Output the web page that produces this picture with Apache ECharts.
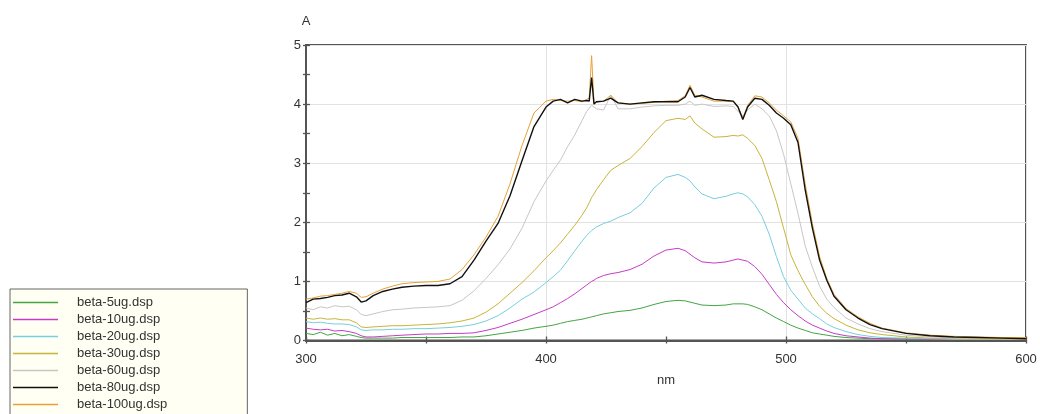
<!DOCTYPE html>
<html>
<head>
<meta charset="utf-8">
<script src="https://cdn.jsdelivr.net/npm/echarts@6/dist/echarts.min.js"></script>
<style>
  html, body { margin: 0; padding: 0; background: #ffffff; }
  #chart { width: 1040px; height: 414px; }
</style>
</head>
<body>
<div id="chart"></div>
<script>
// Wavelength grid (nm), shared by every spectrum
const wavelengths = [300, 303, 306, 309, 312, 315, 318, 321, 323, 325, 328, 332, 336, 340, 345, 350, 355, 360, 365, 370,
  375, 380, 385, 390, 395, 400, 403, 406, 409, 412, 415, 417, 418, 419, 420, 421, 424, 427, 430, 435,
  440, 445, 450, 455, 458, 460, 462, 465, 470, 475, 478, 480, 482, 484, 487, 490, 493, 496, 499, 502,
  505, 508, 511, 514, 517, 520, 525, 530, 535, 540, 550, 560, 570, 580, 590, 600];

// Absorbance (A) of each sample
const beta5 = [0.12, 0.10, 0.14, 0.09, 0.12, 0.08, 0.10, 0.07, 0.05, 0.04, 0.04, 0.04, 0.04, 0.05, 0.05, 0.05, 0.05, 0.05, 0.06, 0.06,
  0.08, 0.11, 0.14, 0.17, 0.21, 0.24, 0.26, 0.29, 0.32, 0.34, 0.36, 0.38, 0.39, 0.40, 0.41, 0.42, 0.45, 0.47, 0.49, 0.51,
  0.55, 0.61, 0.66, 0.68, 0.67, 0.65, 0.63, 0.60, 0.59, 0.60, 0.62, 0.62, 0.62, 0.61, 0.57, 0.52, 0.45, 0.38, 0.32, 0.26,
  0.21, 0.17, 0.13, 0.11, 0.09, 0.07, 0.05, 0.04, 0.03, 0.03, 0.02, 0.02, 0.02, 0.02, 0.02, 0.02];
const beta10 = [0.21, 0.19, 0.18, 0.19, 0.16, 0.17, 0.15, 0.12, 0.08, 0.06, 0.06, 0.07, 0.08, 0.09, 0.10, 0.11, 0.11, 0.12, 0.12, 0.13,
  0.17, 0.22, 0.29, 0.36, 0.44, 0.52, 0.57, 0.64, 0.71, 0.79, 0.88, 0.94, 0.97, 1.00, 1.02, 1.05, 1.10, 1.13, 1.15, 1.20,
  1.29, 1.43, 1.53, 1.56, 1.52, 1.46, 1.40, 1.33, 1.31, 1.33, 1.36, 1.38, 1.36, 1.34, 1.25, 1.12, 0.95, 0.78, 0.64, 0.52,
  0.42, 0.33, 0.26, 0.21, 0.16, 0.12, 0.08, 0.06, 0.04, 0.03, 0.03, 0.02, 0.02, 0.02, 0.02, 0.02];
const beta20 = [0.32, 0.30, 0.31, 0.29, 0.28, 0.28, 0.27, 0.23, 0.18, 0.17, 0.18, 0.18, 0.19, 0.19, 0.20, 0.20, 0.21, 0.22, 0.24, 0.27,
  0.33, 0.42, 0.55, 0.70, 0.82, 0.98, 1.08, 1.19, 1.35, 1.52, 1.68, 1.78, 1.82, 1.86, 1.89, 1.92, 1.98, 2.02, 2.08, 2.16,
  2.32, 2.58, 2.76, 2.81, 2.76, 2.70, 2.60, 2.48, 2.40, 2.44, 2.48, 2.50, 2.48, 2.43, 2.30, 2.10, 1.80, 1.42, 1.08, 0.85,
  0.70, 0.55, 0.45, 0.37, 0.28, 0.22, 0.15, 0.10, 0.07, 0.05, 0.04, 0.03, 0.02, 0.02, 0.02, 0.02];
const beta30 = [0.38, 0.36, 0.38, 0.36, 0.37, 0.35, 0.35, 0.30, 0.23, 0.22, 0.23, 0.24, 0.25, 0.25, 0.26, 0.27, 0.28, 0.30, 0.33, 0.38,
  0.48, 0.62, 0.80, 0.98, 1.18, 1.40, 1.52, 1.65, 1.80, 1.95, 2.12, 2.25, 2.33, 2.42, 2.48, 2.55, 2.72, 2.88, 2.96, 3.08,
  3.28, 3.52, 3.72, 3.76, 3.74, 3.80, 3.68, 3.58, 3.44, 3.45, 3.47, 3.46, 3.48, 3.42, 3.30, 3.08, 2.72, 2.35, 1.90, 1.45,
  1.18, 0.95, 0.74, 0.58, 0.46, 0.37, 0.26, 0.18, 0.13, 0.10, 0.06, 0.04, 0.03, 0.02, 0.02, 0.02];
const beta60 = [0.55, 0.52, 0.57, 0.55, 0.59, 0.57, 0.58, 0.52, 0.44, 0.42, 0.45, 0.49, 0.52, 0.53, 0.55, 0.56, 0.57, 0.59, 0.68, 0.84,
  1.05, 1.28, 1.55, 1.90, 2.35, 2.70, 2.88, 3.05, 3.28, 3.48, 3.72, 3.88, 3.93, 3.98, 3.95, 3.92, 3.90, 4.15, 3.92, 3.92,
  3.95, 3.97, 3.98, 3.98, 4.00, 4.05, 3.98, 4.00, 3.96, 3.97, 3.96, 3.88, 3.80, 3.90, 4.00, 3.92, 3.80, 3.55, 3.15, 2.65,
  2.15, 1.60, 1.24, 0.92, 0.70, 0.56, 0.38, 0.28, 0.20, 0.15, 0.09, 0.06, 0.04, 0.03, 0.03, 0.02];
const beta80 = [0.64, 0.70, 0.71, 0.73, 0.76, 0.77, 0.80, 0.74, 0.65, 0.67, 0.76, 0.83, 0.87, 0.90, 0.92, 0.93, 0.93, 0.96, 1.08, 1.36,
  1.68, 1.98, 2.45, 3.04, 3.62, 3.95, 4.05, 4.08, 4.02, 4.08, 4.05, 4.06, 4.05, 4.45, 4.00, 4.04, 4.05, 4.10, 4.02, 4.00,
  4.02, 4.04, 4.04, 4.04, 4.12, 4.28, 4.12, 4.15, 4.08, 4.06, 4.05, 3.95, 3.74, 3.95, 4.10, 4.08, 3.98, 3.85, 3.76, 3.65,
  3.35, 2.55, 1.90, 1.36, 1.02, 0.75, 0.52, 0.38, 0.27, 0.20, 0.12, 0.08, 0.06, 0.05, 0.04, 0.03];
const beta100 = [0.70, 0.72, 0.75, 0.76, 0.78, 0.80, 0.83, 0.80, 0.73, 0.74, 0.80, 0.87, 0.92, 0.96, 0.98, 0.99, 1.00, 1.04, 1.20, 1.45,
  1.75, 2.10, 2.65, 3.30, 3.85, 4.05, 4.08, 4.06, 4.05, 4.06, 4.04, 4.08, 4.10, 4.82, 4.02, 4.03, 4.05, 4.15, 4.02, 4.00,
  4.01, 4.03, 4.05, 4.06, 4.14, 4.32, 4.15, 4.12, 4.05, 4.05, 4.04, 3.96, 3.76, 3.98, 4.14, 4.12, 4.02, 3.90, 3.80, 3.70,
  3.42, 2.65, 1.98, 1.42, 1.05, 0.78, 0.54, 0.40, 0.29, 0.21, 0.13, 0.09, 0.07, 0.06, 0.05, 0.05];

const seriesNames = ['beta-5ug.dsp', 'beta-10ug.dsp', 'beta-20ug.dsp', 'beta-30ug.dsp', 'beta-60ug.dsp', 'beta-80ug.dsp', 'beta-100ug.dsp'];
const seriesValues = [beta5, beta10, beta20, beta30, beta60, beta80, beta100];
const seriesColors = ['#44a544', '#c63cc6', '#78cedd', '#c8b43a', '#c6c6c6', '#111111', '#e6a237'];
const seriesWidths = [1, 1, 1, 1, 1, 1.4, 1];
const seriesZ = [2, 2, 2, 2, 2, 4, 3];

const xTicks = { min: 300, max: 600, step: 100 };
const yTicks = { min: 0, max: 5, step: 1 };

const FONT = "'Liberation Sans', Arial, sans-serif";
const AXIS_COLOR = '#555555';

const chart = echarts.init(document.getElementById('chart'), null, { renderer: 'canvas' });

const series = seriesNames.map((name, k) => ({
  name: name,
  type: 'line',
  xAxisIndex: 0,
  yAxisIndex: 0,
  data: wavelengths.map((w, i) => [w, seriesValues[k][i]]),
  showSymbol: false,
  symbol: 'none',
  smooth: false,
  z: seriesZ[k],
  color: seriesColors[k],
  lineStyle: { color: seriesColors[k], width: seriesWidths[k] },
  emphasis: { disabled: true }
}));

chart.setOption({
  animation: false,
  backgroundColor: '#ffffff',
  textStyle: { fontFamily: FONT },
  grid: {
    left: 306, right: 14, top: 45, bottom: 73.5,
    show: true, borderColor: AXIS_COLOR, borderWidth: 2, backgroundColor: 'transparent',
    containLabel: false
  },
  legend: {
    orient: 'vertical',
    left: 10,
    top: 289,
    height: 400,
    data: seriesNames,
    icon: 'rect',
    itemWidth: 45,
    itemHeight: 1.5,
    itemGap: 0,
    padding: [5, 80, 24, 3],
    backgroundColor: '#fffff3',
    borderColor: '#666666',
    borderWidth: 1,
    selectedMode: false,
    textStyle: { fontFamily: FONT, fontSize: 13, color: '#333333', lineHeight: 17, padding: [0, 0, 0, 14] }
  },
  xAxis: [{
    type: 'value',
    position: 'bottom',
    min: xTicks.min, max: xTicks.max, interval: xTicks.step,
    name: 'nm', nameLocation: 'middle', nameGap: 33,
    nameTextStyle: { fontFamily: FONT, fontSize: 13, color: '#333333' },
    axisLine: { show: true, onZero: false, lineStyle: { color: AXIS_COLOR, width: 2 } },
    axisTick: { show: true, length: 3, lineStyle: { color: AXIS_COLOR, width: 1.3 } },
    minorTick: { show: true, splitNumber: 2, length: 3, lineStyle: { color: AXIS_COLOR, width: 1.3 } },
    axisLabel: { fontFamily: FONT, fontSize: 13, color: '#333333', margin: 12 },
    splitLine: { show: true, lineStyle: { color: '#e2e2e2', width: 1 } }
  }, {
    type: 'value',
    position: 'bottom',
    min: xTicks.min, max: xTicks.max, interval: xTicks.step,
    axisLine: { show: false },
    axisTick: { show: true, inside: true, length: 4, lineStyle: { color: AXIS_COLOR, width: 1.3 } },
    minorTick: { show: true, splitNumber: 2, length: 4, lineStyle: { color: AXIS_COLOR, width: 1.3 } },
    axisLabel: { show: false },
    splitLine: { show: false }
  }],
  yAxis: [{
    type: 'value',
    position: 'left',
    min: yTicks.min, max: yTicks.max, interval: yTicks.step,
    name: 'A', nameLocation: 'end', nameGap: 17,
    nameTextStyle: { fontFamily: FONT, fontSize: 13, color: '#333333' },
    axisLine: { show: true, onZero: false, lineStyle: { color: AXIS_COLOR, width: 2 } },
    axisTick: { show: true, length: 3, lineStyle: { color: AXIS_COLOR, width: 1.3 } },
    minorTick: { show: true, splitNumber: 2, length: 3, lineStyle: { color: AXIS_COLOR, width: 1.3 } },
    axisLabel: { fontFamily: FONT, fontSize: 13, color: '#333333', margin: 5 },
    splitLine: { show: true, lineStyle: { color: '#e2e2e2', width: 1 } }
  }, {
    type: 'value',
    position: 'left',
    min: yTicks.min, max: yTicks.max, interval: yTicks.step,
    axisLine: { show: false },
    axisTick: { show: true, inside: true, length: 4, lineStyle: { color: AXIS_COLOR, width: 1.3 } },
    minorTick: { show: true, splitNumber: 2, length: 4, lineStyle: { color: AXIS_COLOR, width: 1.3 } },
    axisLabel: { show: false },
    splitLine: { show: false }
  }],
  series: series
});
</script>
</body>
</html>
